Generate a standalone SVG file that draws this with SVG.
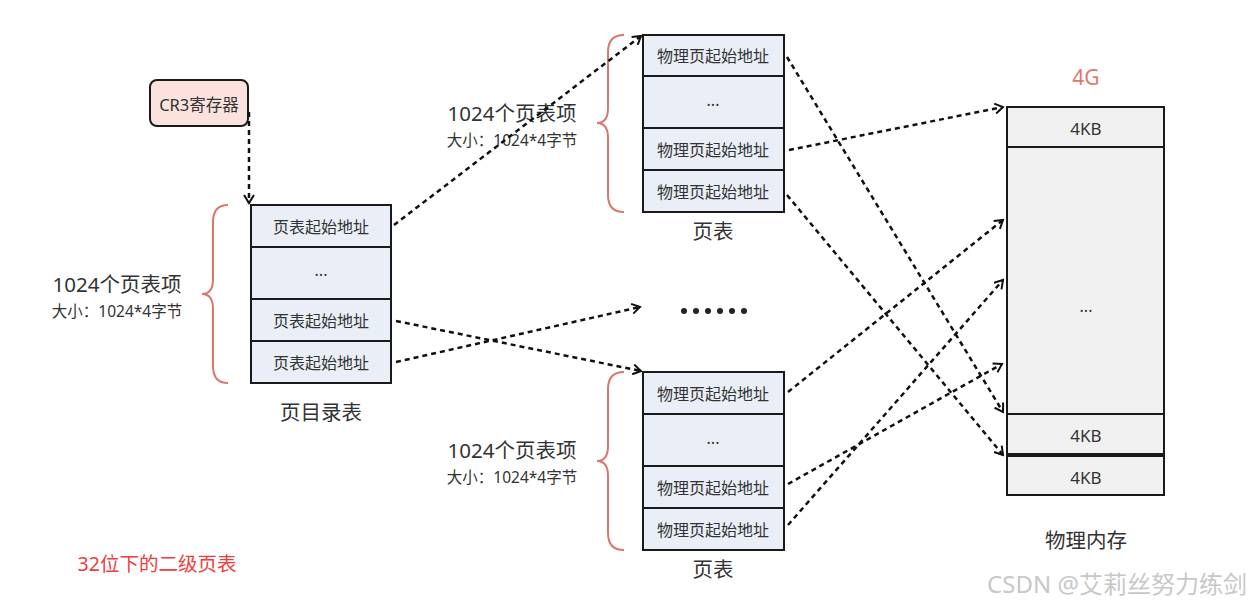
<svg xmlns="http://www.w3.org/2000/svg" width="1255" height="607" viewBox="0 0 1255 607">
<style>
text{font-family:"Noto Sans","Noto Sans CJK SC",sans-serif;fill:#333;text-anchor:middle;dominant-baseline:central}
.cell{fill:#e9eef7;stroke:#1a1a1a;stroke-width:2}
.mem{fill:#f1f1f1;stroke:#1a1a1a;stroke-width:2}
.t14{font-size:16px}
.t18{font-size:20.5px}
.t13{font-size:15.5px}
.kb{font-size:17px}
.brace{fill:none;stroke:#d9776e;stroke-width:2}
.dash{fill:none;stroke:#111;stroke-width:2.5;stroke-dasharray:5 4;marker-end:url(#ah)}
</style>
<defs>
<marker id="ah" viewBox="0 0 12 12" refX="10" refY="6" markerWidth="12" markerHeight="12" markerUnits="userSpaceOnUse" orient="auto">
<path d="M2 1 L10 6 L2 11" fill="none" stroke="#111" stroke-width="2"/>
</marker>
</defs>
<rect width="1255" height="607" fill="#ffffff"/>

<g id="cr3">
<rect x="150" y="80" width="98" height="46" rx="7" fill="#fbe2dc" stroke="#1a1a1a" stroke-width="2"/>
<text x="199" y="104" style="font-size:16.5px">CR3寄存器</text>
</g>

<g id="page-directory">
<rect class="cell" x="251" y="205" width="140" height="42"/>
<rect class="cell" x="251" y="247" width="140" height="52"/>
<rect class="cell" x="251" y="299" width="140" height="42"/>
<rect class="cell" x="251" y="341" width="140" height="42"/>
<text x="321" y="227" class="t14">页表起始地址</text>
<text x="321" y="270" class="t14">...</text>
<text x="321" y="321" class="t14">页表起始地址</text>
<text x="321" y="363" class="t14">页表起始地址</text>
<text x="321" y="412" class="t18">页目录表</text>
<path class="brace" d="M228 205 Q213 205 213 222 L213 279 Q213 294 202 294 Q213 294 213 309 L213 366 Q213 383 228 383"/>
<text x="117" y="284" class="t18">1024个页表项</text>
<text x="117" y="311" class="t13">大小：1024*4字节</text>
</g>

<g id="page-table-1">
<rect class="cell" x="643" y="35" width="141" height="41"/>
<rect class="cell" x="643" y="76" width="141" height="52"/>
<rect class="cell" x="643" y="128" width="141" height="42"/>
<rect class="cell" x="643" y="170" width="141" height="42"/>
<text x="713" y="56" class="t14">物理页起始地址</text>
<text x="713" y="100" class="t14">...</text>
<text x="713" y="150" class="t14">物理页起始地址</text>
<text x="713" y="192" class="t14">物理页起始地址</text>
<text x="713" y="231" class="t18">页表</text>
<path class="brace" d="M624 35 Q608 35 608 52 L608 108 Q608 123 597 123 Q608 123 608 138 L608 195 Q608 212 624 212"/>
<text x="512" y="113" class="t18">1024个页表项</text>
<text x="512" y="140" class="t13">大小：1024*4字节</text>
</g>

<g id="page-table-2">
<rect class="cell" x="643" y="372" width="141" height="42"/>
<rect class="cell" x="643" y="414" width="141" height="52"/>
<rect class="cell" x="643" y="466" width="141" height="42"/>
<rect class="cell" x="643" y="508" width="141" height="42"/>
<text x="713" y="394" class="t14">物理页起始地址</text>
<text x="713" y="438" class="t14">...</text>
<text x="713" y="488" class="t14">物理页起始地址</text>
<text x="713" y="530" class="t14">物理页起始地址</text>
<text x="713" y="569" class="t18">页表</text>
<path class="brace" d="M624 372 Q608 372 608 389 L608 446 Q608 461 597 461 Q608 461 608 476 L608 533 Q608 550 624 550"/>
<text x="512" y="450" class="t18">1024个页表项</text>
<text x="512" y="477" class="t13">大小：1024*4字节</text>
</g>

<g id="more-tables">
<circle cx="684" cy="311" r="3" fill="#222"/>
<circle cx="696" cy="311" r="3" fill="#222"/>
<circle cx="708" cy="311" r="3" fill="#222"/>
<circle cx="720" cy="311" r="3" fill="#222"/>
<circle cx="732" cy="311" r="3" fill="#222"/>
<circle cx="744" cy="311" r="3" fill="#222"/>
</g>

<g id="physical-memory">
<rect class="mem" x="1007" y="107" width="157" height="40"/>
<rect class="mem" x="1007" y="147" width="157" height="267"/>
<rect class="mem" x="1007" y="414" width="157" height="41"/>
<rect class="mem" x="1007" y="455" width="157" height="40"/>
<line x1="1007" y1="455" x2="1164" y2="455" stroke="#1a1a1a" stroke-width="4"/>
<text x="1086" y="128" class="kb">4KB</text>
<text x="1086" y="306" class="t14">...</text>
<text x="1086" y="435" class="kb">4KB</text>
<text x="1086" y="477" class="kb">4KB</text>
<text x="1086" y="77" style="font-size:21px;fill:#e07a6f">4G</text>
<text x="1086" y="540" class="t18">物理内存</text>
</g>

<g id="connectors">
<path class="dash" d="M249 112 L249 203"/>
<path class="dash" d="M394 225 L641 36"/>
<path class="dash" d="M396 321 L641 371"/>
<path class="dash" d="M396 362 L640 307"/>
<path class="dash" d="M787 57 L1003 412"/>
<path class="dash" d="M789 150 L1003 107"/>
<path class="dash" d="M787 195 L1003 455"/>
<path class="dash" d="M788 392 L1003 220"/>
<path class="dash" d="M788 484 L1002 364"/>
<path class="dash" d="M788 525 L1003 280"/>
</g>

<text x="157" y="563" style="font-size:19.5px;fill:#f03c3c">32位下的二级页表</text>
<text x="1117" y="583" style="font-size:24px;fill:#c8c8c8">CSDN @艾莉丝努力练剑</text>
</svg>
